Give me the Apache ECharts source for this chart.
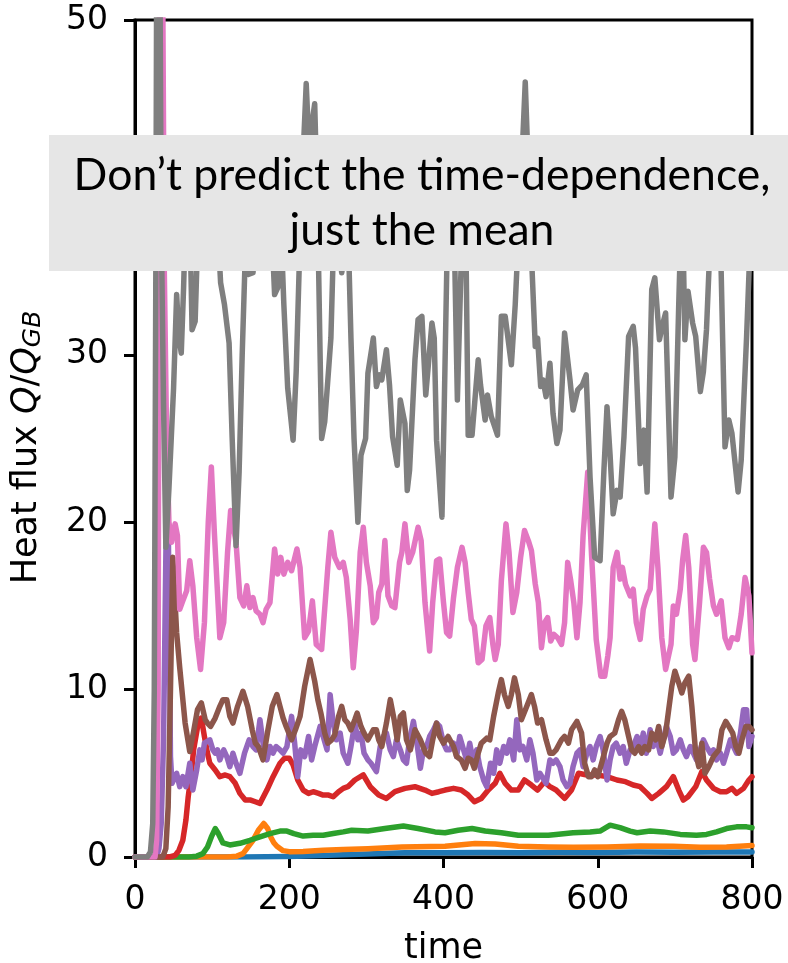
<!DOCTYPE html>
<html>
<head>
<meta charset="utf-8">
<script src="https://cdn.jsdelivr.net/npm/echarts@6/dist/echarts.min.js"></script>
<style>
  html, body { margin: 0; padding: 0; background: #fff; }
  #chart { width: 788px; height: 963px; }
</style>
</head>
<body>
<div id="chart"></div>
<script>
// ---- data: [time, Q/Q_GB] pairs ----
const blue = [[0,0],[140,0],[200,0.03],[250,0.1],[300,0.18],[350,0.25],[400,0.25],[450,0.27],[500,0.25],[550,0.28],[600,0.27],[650,0.3],[700,0.28],[750,0.3],[800,0.3]];

const orange = [[0,0],[120,0],[132,0.05],[140,0.2],[145,0.5],[153,1.0],[160,1.6],[167,2.0],[172,1.7],[176,1.2],[180,0.85],[184,0.64],[192,0.38],[200,0.32],[218,0.33],[244,0.4],[270,0.45],[302,0.5],[346,0.6],[402,0.64],[441,0.8],[467,0.78],[497,0.64],[536,0.6],[568,0.58],[612,0.6],[655,0.66],[698,0.64],[733,0.58],[767,0.6],[800,0.68]];

const green = [[0,0],[70,0],[80,0.05],[88,0.2],[94,0.6],[99,1.2],[104,1.7],[108,1.4],[114,0.84],[123,0.72],[136,0.82],[149,1.0],[162,1.2],[175,1.4],[188,1.55],[197,1.55],[206,1.4],[218,1.25],[231,1.3],[244,1.3],[257,1.4],[270,1.5],[281,1.6],[302,1.55],[324,1.7],[348,1.85],[367,1.7],[389,1.5],[402,1.45],[419,1.6],[437,1.7],[454,1.55],[475,1.45],[497,1.3],[518,1.3],[536,1.3],[546,1.35],[568,1.45],[590,1.5],[603,1.55],[616,1.9],[629,1.75],[642,1.55],[651,1.45],[668,1.55],[685,1.5],[707,1.35],[728,1.3],[741,1.35],[754,1.5],[767,1.7],[780,1.8],[793,1.8],[800,1.75]];

const red = [[0,0],[45,0],[52,0.1],[57,0.4],[62,1.0],[66,2.2],[69,3.6],[73,5.0],[76,6.4],[82,8.0],[86,8.3],[90,7.2],[94,6.2],[97,5.6],[104,5.2],[110,4.8],[117,4.9],[123,4.8],[130,4.4],[136,3.8],[143,3.4],[150,3.4],[156,3.3],[162,3.2],[171,4.0],[179,4.8],[188,5.6],[194,5.9],[200,5.9],[205,5.5],[211,4.6],[218,4.0],[225,3.8],[231,3.9],[238,3.8],[244,3.7],[251,3.7],[257,3.6],[264,3.9],[270,4.1],[276,4.2],[285,4.6],[296,4.9],[305,4.2],[316,3.7],[326,3.5],[337,3.9],[350,4.1],[363,4.2],[376,4.0],[385,3.8],[394,3.9],[402,4.0],[413,4.1],[423,4.0],[432,3.7],[440,3.3],[449,3.5],[458,4.0],[467,4.4],[473,5.0],[480,4.4],[488,4.0],[497,4.0],[505,4.6],[514,4.3],[522,4.0],[531,4.5],[538,4.2],[546,4.0],[557,3.5],[566,4.0],[575,5.0],[586,4.9],[599,4.9],[612,4.8],[625,4.6],[636,4.5],[646,4.3],[655,4.2],[664,3.8],[670,3.5],[679,3.8],[689,4.2],[698,4.8],[705,4.0],[711,3.4],[717,3.6],[727,4.2],[735,5.1],[741,4.6],[750,4.1],[759,3.9],[767,3.9],[774,4.1],[780,3.8],[789,4.1],[796,4.6],[800,4.8]];

const purple = [[0,0],[28,0],[31,0.5],[34,2],[37,7],[40,18],[42,25],[44,16],[46,6],[48,4.4],[54,5.0],[58,4.2],[62,4.8],[66,4.2],[71,5.6],[75,4.0],[80,5.2],[84,6.4],[87,5.8],[90,6.8],[97,7.0],[101,6.4],[104,6.2],[107,6.4],[110,5.8],[115,6.4],[119,6.0],[123,5.4],[127,6.2],[131,5.6],[136,5.0],[142,6.2],[148,7.0],[153,6.6],[157,6.4],[162,8.2],[166,6.8],[171,5.8],[175,6.6],[179,6.2],[183,6.6],[188,6.4],[192,6.2],[197,6.6],[201,7.8],[203,8.4],[207,6.8],[211,4.8],[215,6.4],[220,6.0],[225,7.2],[229,5.8],[233,6.6],[240,7.8],[244,7.2],[249,6.4],[253,9.7],[257,8.0],[261,7.0],[266,7.4],[270,6.2],[276,5.6],[280,6.6],[285,8.0],[289,7.0],[293,7.4],[297,6.2],[302,5.8],[306,5.6],[313,5.1],[318,6.6],[322,7.2],[326,7.4],[331,6.4],[335,6.0],[339,7.0],[344,6.4],[348,5.8],[352,5.6],[356,7.0],[361,8.1],[365,7.0],[370,5.3],[374,6.4],[378,6.6],[382,7.2],[387,7.6],[391,8.0],[395,7.8],[400,6.8],[404,6.4],[408,6.4],[413,6.8],[417,6.0],[421,7.2],[426,6.4],[430,5.8],[434,6.8],[438,5.8],[443,6.4],[447,5.4],[452,4.6],[456,4.2],[461,5.6],[465,5.0],[469,6.4],[473,5.6],[478,6.6],[482,6.2],[486,7.0],[491,5.8],[495,8.2],[499,6.4],[503,6.6],[508,5.8],[512,7.0],[516,6.2],[521,4.6],[525,5.0],[529,4.7],[533,4.4],[538,5.8],[542,5.6],[546,5.8],[551,5.4],[555,4.6],[560,4.2],[564,4.4],[568,5.4],[573,6.2],[577,6.4],[581,5.4],[586,6.2],[590,6.6],[594,5.8],[598,6.6],[603,7.2],[607,6.4],[612,4.6],[616,5.8],[620,6.6],[624,6.8],[629,6.2],[633,6.6],[637,5.6],[642,6.4],[646,6.6],[651,7.2],[655,6.4],[659,7.4],[663,6.2],[668,7.6],[672,6.6],[676,7.2],[681,6.2],[685,7.0],[689,7.8],[694,7.2],[698,6.2],[702,6.4],[707,7.0],[711,6.4],[715,6.0],[720,6.6],[724,6.2],[728,5.8],[733,6.4],[737,7.0],[741,6.6],[746,6.2],[750,6.4],[754,5.8],[759,6.2],[763,5.6],[767,6.2],[772,7.0],[776,6.6],[780,6.2],[785,7.4],[789,8.8],[793,8.8],[796,6.6],[800,7.2]];

const brown = [[0,0],[36,0],[40,0.5],[43,3],[46,10],[49,17.9],[54,13.4],[58,11.3],[65,8.0],[71,6.3],[76,7.5],[81,8.8],[86,9.2],[91,8.2],[94,8.0],[98,7.8],[104,8.3],[110,9.0],[114,9.4],[119,9.4],[123,8.4],[127,8.0],[133,9.0],[140,9.9],[146,9.0],[152,7.6],[156,6.8],[160,6.6],[166,5.8],[172,7.5],[178,9.0],[184,9.7],[188,9.0],[192,8.3],[196,7.8],[203,7.0],[208,7.6],[214,8.4],[220,10.2],[227,11.8],[233,10.5],[237,9.4],[241,8.6],[246,7.4],[250,6.8],[255,7.0],[259,7.3],[264,8.4],[268,9.0],[272,8.2],[276,8.0],[280,7.6],[285,8.2],[288,8.6],[293,7.8],[297,7.4],[302,7.0],[309,7.6],[313,7.6],[316,7.0],[320,6.6],[326,8.0],[331,9.4],[336,8.2],[340,7.0],[344,8.4],[348,8.6],[352,7.0],[357,6.4],[363,7.6],[370,7.0],[377,6.2],[382,6.0],[386,7.0],[391,8.0],[395,7.2],[400,6.8],[406,7.2],[413,6.6],[417,6.0],[423,5.8],[428,5.3],[432,5.9],[436,5.8],[440,5.3],[445,6.2],[449,6.8],[456,7.1],[460,7.0],[465,8.4],[471,9.8],[475,10.6],[479,9.7],[484,9.0],[488,9.7],[492,10.7],[497,9.7],[501,8.2],[508,9.0],[514,9.7],[518,9.0],[522,8.0],[527,8.2],[533,7.0],[538,6.2],[542,6.2],[546,6.4],[553,7.0],[557,7.2],[562,6.8],[566,7.6],[573,8.1],[579,7.4],[583,5.6],[588,4.8],[592,4.8],[596,5.2],[600,4.8],[605,5.6],[612,6.8],[616,7.2],[622,7.4],[627,8.2],[631,8.7],[635,8.2],[640,7.2],[644,6.4],[648,6.2],[653,6.6],[657,6.2],[661,6.6],[666,6.4],[670,7.4],[675,7.0],[679,7.8],[683,6.6],[688,7.4],[692,8.8],[696,10.2],[700,11.1],[705,10.4],[709,9.8],[713,10.4],[718,10.8],[722,9.0],[727,6.2],[731,5.4],[735,6.8],[739,5.0],[744,5.4],[750,6.0],[757,6.4],[761,7.6],[766,8.1],[770,7.8],[775,7.4],[779,6.6],[783,6.2],[787,7.0],[792,7.8],[796,7.8],[800,7.6]];

const pink = [[0,0],[26,0],[28,1],[30,10],[32,60],[35,60],[38,35],[41,25],[44,20],[47.5,18.8],[52,19.9],[55,19.2],[58,14.8],[62,15.3],[67,15.9],[71,17.7],[75,16.2],[80,13.1],[85,11.2],[90,14],[95,20],[99,23.3],[103,19.3],[110,13.1],[115,14.0],[120,18.2],[124,20.7],[131,18.8],[136,15.5],[141,15.0],[145,16.2],[149,14.9],[153,15.5],[157,14.7],[162,14.5],[166,14.0],[170,14.8],[175,15.2],[181,18.4],[185,16.9],[189,17.9],[193,16.9],[198,17.6],[203,17.1],[210,18.4],[214,17.3],[220,13.1],[225,13.5],[230,15.3],[235,12.7],[242,12.4],[250,17.3],[254,19.4],[259,17.9],[265,17.3],[270,17.6],[274,16.7],[279,14.2],[283,11.3],[287,13.5],[292,18.2],[296,19.7],[300,17.6],[305,16.2],[309,14.0],[313,14.3],[316,15.8],[320,16.3],[324,18.9],[328,15.6],[333,15.0],[337,14.9],[343,17.6],[346,18.2],[350,19.9],[355,17.6],[360,18.2],[367,19.7],[371,18.9],[376,15.2],[382,12.3],[386,15.2],[391,17.7],[395,17.8],[400,15.2],[404,13.4],[408,13.2],[413,15.5],[418,17.3],[424,18.5],[428,17.6],[432,15.8],[436,14.2],[440,13.8],[445,11.6],[450,11.8],[455,13.8],[460,14.3],[464,12.7],[467,11.8],[471,12.7],[475,16.5],[481,19.9],[485,18.2],[490,14.6],[495,15.8],[500,17.9],[505,19.5],[510,18.9],[514,18.3],[519,16.3],[523,15.2],[527,12.5],[531,14.0],[535,14.3],[539,12.9],[543,13.3],[548,13.1],[553,12.7],[557,14.0],[561,17.6],[565,16.5],[569,15.2],[573,13.1],[577,15.2],[581,19.2],[587,23],[592,18],[598,13],[604,10.8],[609,10.8],[613,12],[616,13.1],[620,17.3],[625,18.2],[629,16.6],[632,17.3],[636,16.3],[642,15.6],[646,16.0],[650,14.0],[655,13.0],[659,14.8],[664,15.6],[668,16.0],[674,19.9],[678,17.3],[683,13.1],[688,11.2],[695,12.7],[698,15.0],[702,14.5],[707,16.0],[710,17.7],[714,19.2],[718,17.3],[723,12.7],[726,11.8],[732,15.2],[737,18.5],[741,18.2],[745,16.6],[750,15.0],[754,14.5],[760,15.3],[765,13.1],[770,12.5],[774,13.1],[781,13.0],[786,14.5],[791,16.7],[796,15.6],[800,12.2]];

const gray = [[0,0],[16,0],[20,0.3],[23,2],[25,10],[27,35],[28.5,60],[31.5,60],[34,38],[37,27],[40,18.5],[44,22],[47,25],[50,28],[54,33.6],[57,31],[60,30.1],[63,34],[66,39],[70,41],[74,31.5],[78,32],[82,38],[87,42],[92,39],[97,41],[103,38],[108,37],[111,34.3],[116,33],[122,30.7],[126,25],[131,18.6],[135,23],[139,30],[143,36],[147,34.8],[153,34.9],[158,39],[164,41],[170,38],[175,40],[181,33.6],[185,34],[189,38],[193,33],[198,28],[205,24.9],[209,29],[214,37],[219,43],[222,46.2],[226,42],[230,44],[233,45],[237,38],[240,30],[242,25.0],[246,26],[251,29.1],[254,31],[257,36],[262,40],[266,36],[268,34.9],[272,36],[276,38],[280,31],[284,25],[289,20.0],[293,24],[296,24.5],[299,25],[302,28.9],[309,31.0],[313,28.1],[317,28.8],[320,28.5],[326,30.3],[330,28.2],[334,25.1],[340,23.4],[344,27.3],[350,25.9],[353,21.9],[356,23.1],[363,29.7],[367,32.1],[372,32.3],[377,27.6],[385,31.9],[388,31.0],[391,24.9],[398,20.3],[401,27],[405,37],[410,41],[414,37],[418,27.3],[422,34],[426,40],[429,37],[432,25.2],[437,25.2],[445,29.7],[448,28.2],[454,26.1],[457,27.6],[462,26.3],[470,25.2],[475,32.3],[480,32.3],[488,29.4],[493,33],[497,37],[502,42],[506,46.3],[510,41],[514,36],[519,30.5],[522,31.0],[526,28.1],[529,28.5],[533,27.5],[538,29.5],[542,26.5],[547,24.7],[551,25.5],[557,31.3],[564,28.5],[568,26.7],[574,27.9],[580,28.2],[585,28.8],[590,22.7],[596,17.9],[603,17.7],[608,23.1],[612,26.9],[616,24.0],[620,20.5],[625,21.9],[629,21.5],[634,25.1],[640,31.1],[646,31.7],[649,30.4],[655,23.5],[660,25.5],[664,21.8],[670,33.9],[674,34.6],[680,30.9],[684,31.8],[688,32.5],[695,21.5],[700,23.9],[705,33],[708,38],[711,36],[713,30.9],[717,33.8],[723,31.9],[727,31.1],[733,27.8],[737,29.0],[741,31.5],[745,36],[750,41],[755,39],[760,35],[765,24.5],[770,26.1],[774,25.3],[782,21.8],[786,23.7],[793,31.1],[797,36],[800,38]];

const xTicks = { min: 0, max: 800, interval: 200 };
const yTicks = { min: 0, max: 50, interval: 10 };
const seriesList = [
  { name: 'blue', data: blue, color: '#1f77b4' },
  { name: 'orange', data: orange, color: '#ff7f0e' },
  { name: 'green', data: green, color: '#2ca02c' },
  { name: 'red', data: red, color: '#d62728' },
  { name: 'purple', data: purple, color: '#9467bd' },
  { name: 'brown', data: brown, color: '#8c564b' },
  { name: 'pink', data: pink, color: '#e377c2' },
  { name: 'gray', data: gray, color: '#7f7f7f' }
];
const boxLines = ['Don\u2019t predict the time-dependence,', 'just the mean'];

const chart = echarts.init(document.getElementById('chart'), null, { renderer: 'canvas' });
const axisFont = "'DejaVu Sans'";
chart.setOption({
  animation: false,
  backgroundColor: '#ffffff',
  grid: { left: 135, right: 36, top: 20, bottom: 106, containLabel: false, outerBoundsMode: 'none',
          show: true, borderColor: '#000', borderWidth: 3, backgroundColor: 'transparent' },
  xAxis: {
    type: 'value', min: xTicks.min, max: xTicks.max, interval: xTicks.interval,
    name: 'time', nameLocation: 'middle', nameGap: 74,
    nameTextStyle: { fontFamily: axisFont, fontSize: 35, color: '#000' },
    axisLine: { show: true, lineStyle: { color: '#000', width: 3 } },
    axisTick: { show: true, inside: false, length: 11, lineStyle: { color: '#000', width: 3 } },
    axisLabel: { fontFamily: axisFont, fontSize: 33, color: '#000', margin: 27 },
    splitLine: { show: false }
  },
  yAxis: {
    type: 'value', min: yTicks.min, max: yTicks.max, interval: yTicks.interval,
    name: 'Heat flux {i|Q}/{i|Q}{s|GB}', nameLocation: 'middle', nameGap: 89, nameRotate: 90,
    nameTextStyle: { fontFamily: axisFont, fontSize: 35, color: '#000', padding: [0, 18, 0, 0],
      rich: {
        i: { fontFamily: axisFont, fontSize: 35, fontStyle: 'italic', color: '#000' },
        s: { fontFamily: axisFont, fontSize: 25, fontStyle: 'italic', color: '#000', verticalAlign: 'bottom', padding: [14, 0, 0, 0] }
      } },
    axisLine: { show: true, lineStyle: { color: '#000', width: 3 } },
    axisTick: { show: true, inside: false, length: 11, lineStyle: { color: '#000', width: 3 } },
    axisLabel: { fontFamily: axisFont, fontSize: 33, color: '#000', margin: 27 },
    splitLine: { show: false }
  },
  series: seriesList.map(s => ({
    type: 'line', name: s.name, data: s.data, showSymbol: false, symbol: 'none',
    clip: true, lineStyle: { color: s.color, width: 5.5, join: 'round', cap: 'round' },
    itemStyle: { color: s.color }
  })),
  graphic: [
    { type: 'rect', z: 100, shape: { x: 49, y: 135, width: 760, height: 136 }, style: { fill: '#e6e6e6' } },
    { type: 'text', z: 101, x: 422, y: 203, style: { text: boxLines.join('\n'), fontFamily: 'Lato', fontSize: 44.5, lineHeight: 55, fill: '#000', align: 'center', verticalAlign: 'middle' } }
  ]
});
</script>
</body>
</html>
